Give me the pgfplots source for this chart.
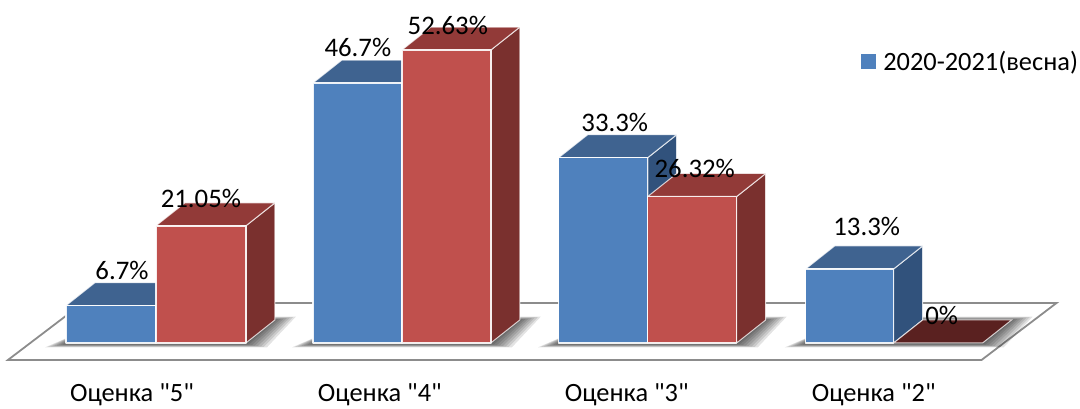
\documentclass[border=0pt]{standalone}
\usepackage{fontspec}
\setmainfont{Carlito}
\newfontfamily\plainfont{Carlito}
\usepackage{pgfplots}
\pgfplotsset{compat=1.18}
\definecolor{bfront}{HTML}{4F81BD}
\definecolor{btop}{HTML}{3F6390}
\definecolor{bside}{HTML}{31527C}
\definecolor{rfront}{HTML}{C0504D}
\definecolor{rtop}{HTML}{923A38}
\definecolor{rside}{HTML}{7A302E}
\definecolor{rzero}{HTML}{5A2120}
\newcommand\q{{\plainfont\symbol{34}}}
% #1 x left, #2 x right, #3 x back right, #4 x back left, #5 value, #6 value+depth, #7 front, #8 top, #9 side
\newcommand\barthree[9]{%
  \addplot[fill=#9,draw=white,draw opacity=.75,line width=1pt,line join=round,forget plot] coordinates {(#2,0) (#3,4.13) (#3,#6) (#2,#5)} --cycle;
  \addplot[fill=#8,draw=white,draw opacity=.75,line width=1pt,line join=round,forget plot] coordinates {(#1,#5) (#2,#5) (#3,#6) (#4,#6)} --cycle;
  \addplot[fill=#7,draw=white,draw opacity=.9,line width=1.4pt,line join=round,forget plot] coordinates {(#1,0) (#2,0) (#2,#5) (#1,#5)} --cycle;
}
% #1 x left, #2 x right, #3 x spread, #4 y spread (in value units)
\newcommand\shadowlayer[4]{%
  \pgfmathsetmacro\sa{#1-#3}\pgfmathsetmacro\sb{#2+#3}%
  \pgfmathsetmacro\sc{#2+#3+29}\pgfmathsetmacro\sd{#1+#3+29}%
  \pgfmathsetmacro\ya{-0.2-#4}\pgfmathsetmacro\yb{4.13+#4}%
  \addplot[fill=black,fill opacity=.11,draw=none,forget plot] coordinates {(\sa,\ya) (\sb,\ya) (\sc,\yb) (\sd,\yb)} --cycle;
}
\newcommand\shadow[2]{%
  \shadowlayer{#1}{#2}{21}{0.6}%
  \shadowlayer{#1}{#2}{18}{0.5}%
  \shadowlayer{#1}{#2}{15}{0.42}%
  \shadowlayer{#1}{#2}{12}{0.34}%
  \shadowlayer{#1}{#2}{9}{0.26}%
  \shadowlayer{#1}{#2}{6}{0.18}%
  \shadowlayer{#1}{#2}{3}{0.1}%
  \shadowlayer{#1}{#2}{1}{0}%
}
\begin{document}
\begin{tikzpicture}
\begin{axis}[
  scale only axis, width=1080pt, height=408pt,
  xmin=0, xmax=1080, ymin=-11.676, ymax=61.61,
  axis line style={draw=none},
  major tick length=0pt, ytick=\empty,
  xtick={132,380,627,874},
  xticklabels={Оценка \q5\q,Оценка \q4\q,Оценка \q3\q,Оценка \q2\q},
  xticklabel style={yshift=28pt,font=\fontsize{26.4}{30}\selectfont,text=black},
  legend style={at={(861/1080,1-49/408)},anchor=north west,draw=none,fill=none,
    font=\fontsize{26.4}{30}\selectfont,inner sep=0pt,
    legend cell align=left},
  clip=false,
]
\addlegendimage{legend image code/.code={\fill[bfront] (2pt,-7pt) rectangle (16pt,7pt);\path (22pt,0pt);}}
\addlegendentry{2020-2021(весна)}
% floor
\addplot[draw=black!45,line width=1.8pt,line join=miter,forget plot] coordinates {(8,-3.05) (982,-3.05) (1057,7.19) (83,7.19)} --cycle;
\shadow{66}{246}
\shadow{313}{491}
\shadow{559}{737}
\shadow{806}{983}
% group 1
\barthree{66}{156}{185}{95}{6.7}{10.83}{bfront}{btop}{bside}
\barthree{156}{246}{275}{185}{21.05}{25.18}{rfront}{rtop}{rside}
% group 2
\barthree{313}{402}{431}{342}{46.7}{50.83}{bfront}{btop}{bside}
\barthree{402}{491}{520}{431}{52.63}{56.76}{rfront}{rtop}{rside}
% group 3
\barthree{559}{648}{677}{588}{33.3}{37.43}{bfront}{btop}{bside}
\barthree{648}{737}{766}{677}{26.32}{30.45}{rfront}{rtop}{rside}
% group 4
\barthree{806}{894}{923}{835}{13.3}{17.43}{bfront}{btop}{bside}
\addplot[fill=rzero,draw=white,draw opacity=.75,line width=1pt,forget plot] coordinates {(894,0) (983,0) (1012,4.13) (923,4.13)} --cycle;
% labels
\begin{scope}[every node/.style={font=\fontsize{26.8}{30}\selectfont,inner sep=0pt,text=black}]
\node at (axis cs:122,13.1) {6.7\%};
\node at (axis cs:201,26.05) {21.05\%};
\node at (axis cs:358,53.17) {46.7\%};
\node at (axis cs:448,57.1) {52.63\%};
\node at (axis cs:615,39.7) {33.3\%};
\node at (axis cs:695,31.4) {26.32\%};
\node at (axis cs:867,21.0) {13.3\%};
\node at (axis cs:942,4.85) {0\%};
\end{scope}
\end{axis}
\end{tikzpicture}
\end{document}
